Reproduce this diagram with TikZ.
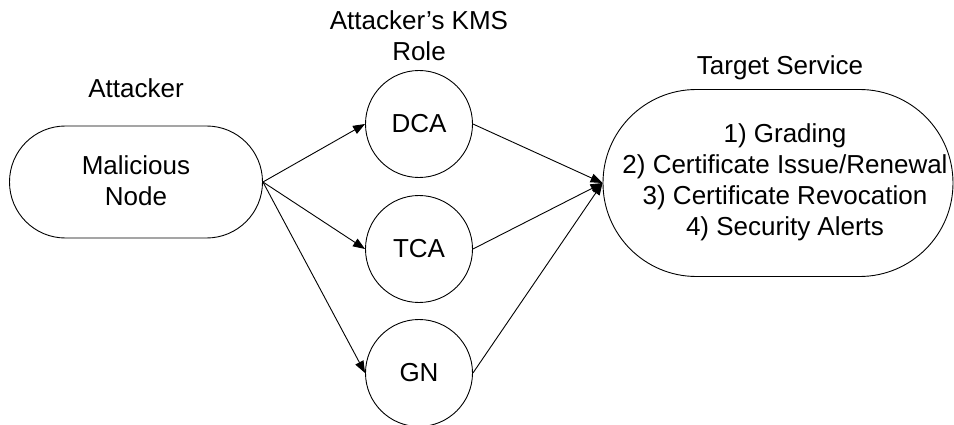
\documentclass[tikz,border=0pt]{standalone}
\usepackage{fontspec}
\setmainfont{Liberation Sans}
\usetikzlibrary{arrows.meta}
\begin{document}
\begin{tikzpicture}[x=1pt,y=-1pt,
  every node/.style={font=\fontsize{26}{31}\selectfont, align=center},
  stadium/.style={draw, line width=0.9pt, rectangle, inner sep=0pt},
  role/.style={draw, line width=0.9pt, circle, minimum size=107pt, inner sep=0pt},
  caption/.style={inner sep=0pt},
  link/.style={line width=0.9pt, -{Triangle[length=12pt,width=9pt]}}
]
\useasboundingbox (0,0) rectangle (954,425);

% attacker side
\node[stadium, rounded corners=55.9pt, minimum width=253pt, minimum height=112pt] (mal) at (136,182) {};
\node[caption] (maltext) at (136,181) {Malicious\\Node};
\node[caption] (attlab) at (136,88) {Attacker};

% roles the attacker may take in the KMS
\node[caption] (rolelab) at (419,36) {Attacker’s KMS\\Role};
\node[role] (dca) at (419,124) {DCA};
\node[role] (tca) at (419,249) {TCA};
\node[role] (gn)  at (419,373) {GN};

% services under attack
\node[caption] (tgtlab) at (780,68) {Target Service};
\node[stadium, rounded corners=93.4pt, minimum width=350pt, minimum height=187pt] (tgt) at (778,183) {};
\node[caption] (tgttext) at (785,182)
  {1) Grading\\2) Certificate Issue/Renewal\\3) Certificate Revocation\\4) Security Alerts};

\draw[link] (mal.east) -- (dca.west);
\draw[link] (mal.east) -- (tca.west);
\draw[link] (mal.east) -- (gn.west);
\draw[link] (dca.east) -- (tgt.west);
\draw[link] (tca.east) -- (tgt.west);
\draw[link] (gn.east) -- (tgt.west);
\end{tikzpicture}
\end{document}
